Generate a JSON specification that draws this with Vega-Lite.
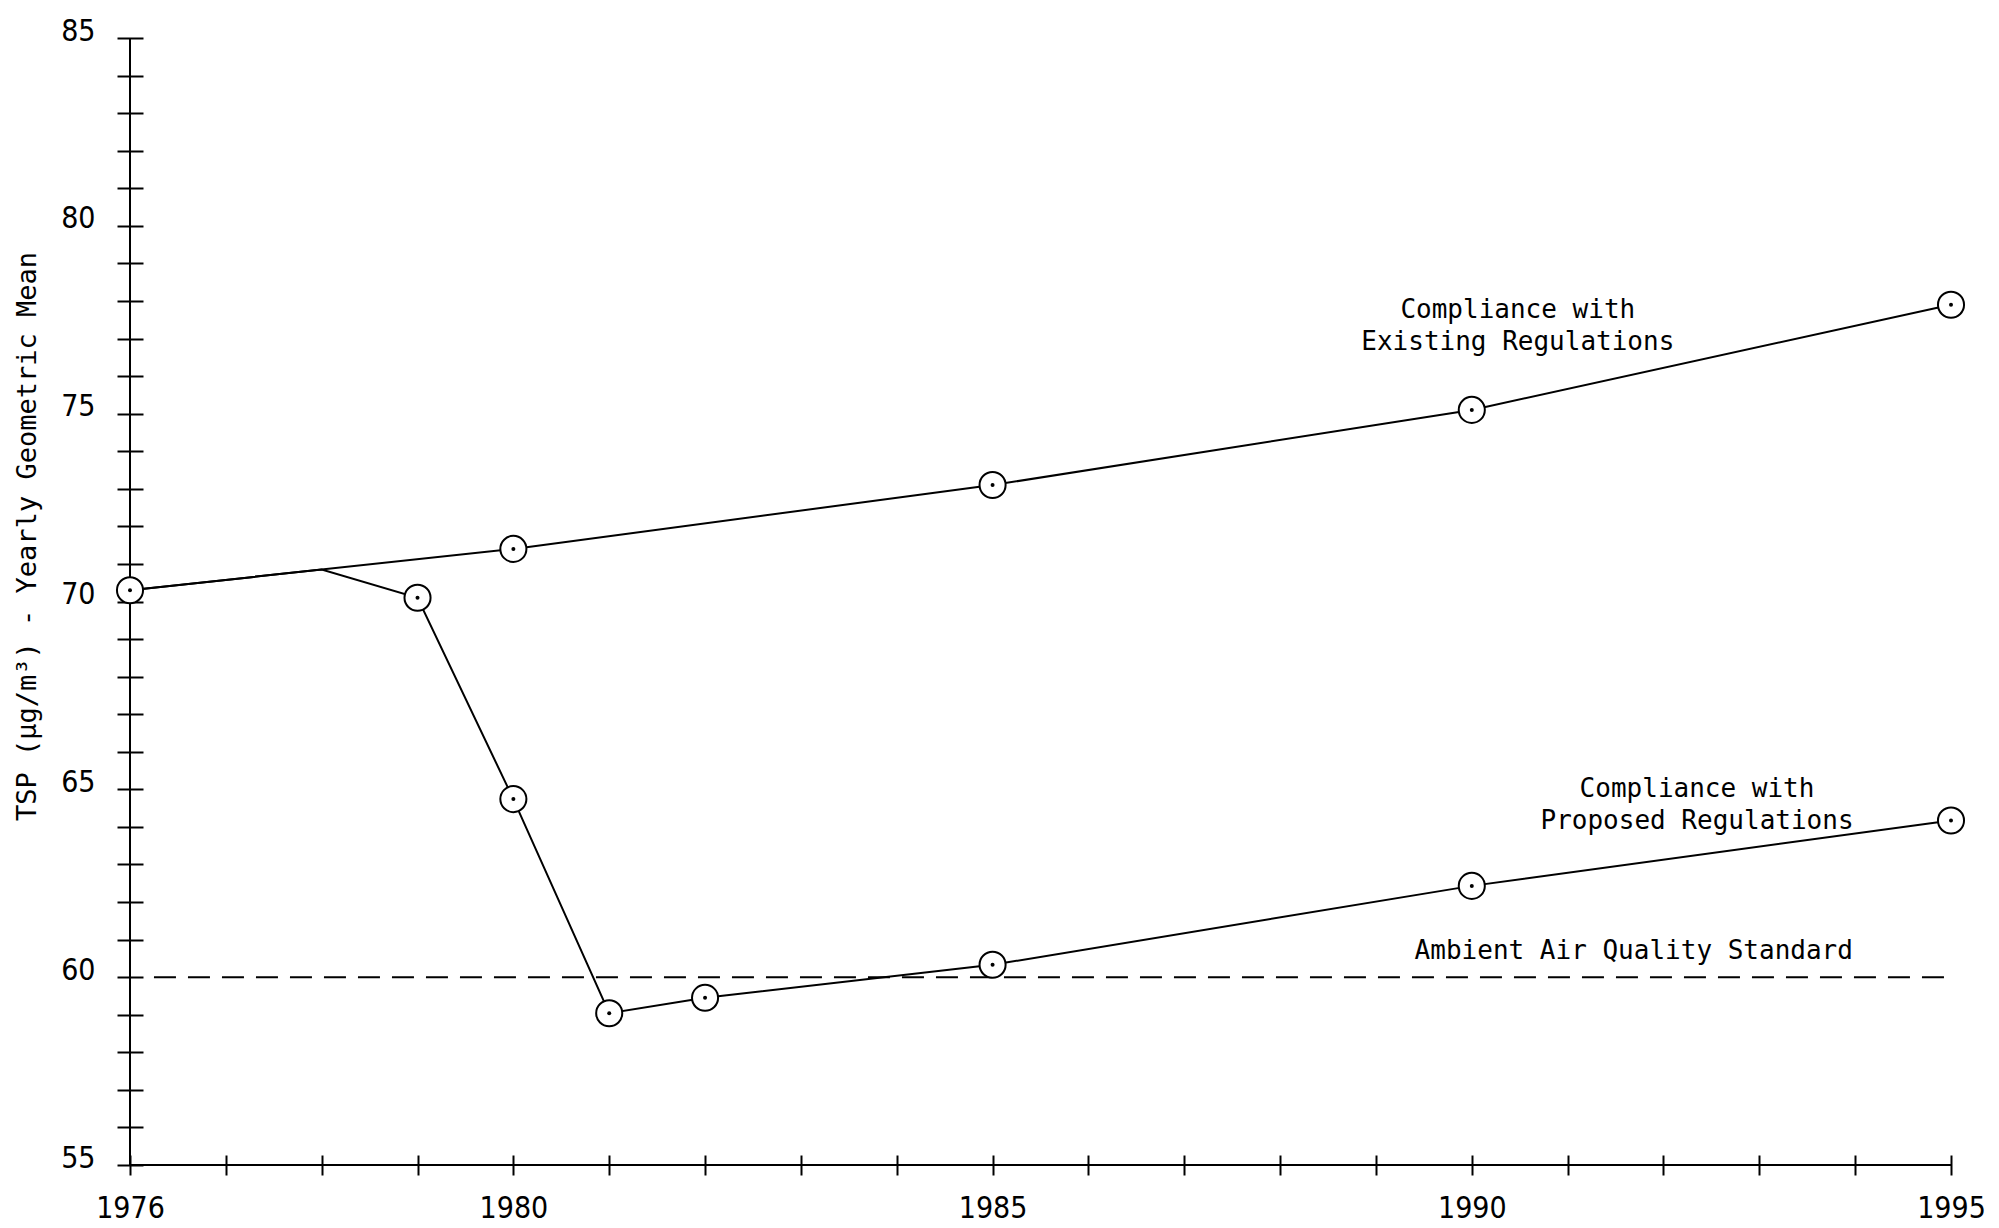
{
  "$schema": "https://vega.github.io/schema/vega-lite/v6.json",
  "width": 1821,
  "height": 1127,
  "autosize": "none",
  "padding": {"left": 130, "top": 38, "right": 48, "bottom": 63},
  "background": "white",
  "config": {
    "view": {"stroke": null},
    "axis": {
      "domain": false,
      "grid": false,
      "tickColor": "black",
      "tickWidth": 2,
      "labelColor": "black",
      "labelFont": "Liberation Sans Narrow, DejaVu Sans Condensed, DejaVu Sans",
      "labelFontSize": 30,
      "titleColor": "black",
      "titleFont": "DejaVu Sans Mono",
      "titleFontSize": 27,
      "titleFontWeight": "normal"
    }
  },
  "datasets": {
    "series": [
      {"series": "Existing", "year": 1976, "tsp": 70.3},
      {"series": "Existing", "year": 1980, "tsp": 71.4},
      {"series": "Existing", "year": 1985, "tsp": 73.1},
      {"series": "Existing", "year": 1990, "tsp": 75.1},
      {"series": "Existing", "year": 1995, "tsp": 77.9},
      {"series": "Proposed", "year": 1976, "tsp": 70.3},
      {"series": "Proposed", "year": 1978, "tsp": 70.85},
      {"series": "Proposed", "year": 1979, "tsp": 70.1},
      {"series": "Proposed", "year": 1980, "tsp": 64.74},
      {"series": "Proposed", "year": 1981, "tsp": 59.04},
      {"series": "Proposed", "year": 1982, "tsp": 59.45},
      {"series": "Proposed", "year": 1985, "tsp": 60.33},
      {"series": "Proposed", "year": 1990, "tsp": 62.43},
      {"series": "Proposed", "year": 1995, "tsp": 64.17}
    ],
    "labels": [
      {"year": 1990.48, "tsp": 77.75, "label": "Compliance with\nExisting Regulations"},
      {"year": 1992.35, "tsp": 65.0, "label": "Compliance with\nProposed Regulations"},
      {"year": 1991.69, "tsp": 60.7, "label": "Ambient Air Quality Standard"}
    ]
  },
  "layer": [
    {
      "data": {"name": "series"},
      "mark": {"type": "line", "color": "black", "strokeWidth": 2},
      "encoding": {
        "x": {
          "field": "year",
          "type": "quantitative",
          "scale": {"domain": [1976, 1995], "nice": false, "zero": false},
          "axis": {
            "values": [1976, 1977, 1978, 1979, 1980, 1981, 1982, 1983, 1984, 1985, 1986, 1987, 1988, 1989, 1990, 1991, 1992, 1993, 1994, 1995],
            "tickCount": 40,
            "format": "d",
            "labelExpr": "(datum.value == 1976 || datum.value % 5 == 0) ? datum.label : ''",
            "offset": -10,
            "tickSize": 20,
            "labelPadding": 18,
            "labelOverlap": false,
            "labelFlush": false,
            "title": null
          }
        },
        "y": {
          "field": "tsp",
          "type": "quantitative",
          "scale": {"domain": [55, 85], "nice": false, "zero": false},
          "axis": {
            "values": [55, 56, 57, 58, 59, 60, 61, 62, 63, 64, 65, 66, 67, 68, 69, 70, 71, 72, 73, 74, 75, 76, 77, 78, 79, 80, 81, 82, 83, 84, 85],
            "tickCount": 40,
            "labelExpr": "datum.value % 5 == 0 ? datum.label : ''",
            "offset": -13,
            "tickSize": 26,
            "labelPadding": 22,
            "labelOffset": -7,
            "labelOverlap": false,
            "labelFlush": false,
            "title": "TSP (μg/m³) - Yearly Geometric Mean",
            "titleAngle": 270,
            "titleX": -116,
            "titleY": 498,
            "titleAlign": "center",
            "titleBaseline": "middle"
          }
        },
        "detail": {"field": "series"},
        "order": {"field": "year"}
      }
    },
    {
      "data": {"values": [{}]},
      "mark": {"type": "rule", "color": "black", "strokeWidth": 2},
      "encoding": {
        "x": {"datum": 1976, "type": "quantitative"},
        "y": {"datum": 55, "type": "quantitative"},
        "y2": {"datum": 85}
      }
    },
    {
      "data": {"values": [{}]},
      "mark": {"type": "rule", "color": "black", "strokeWidth": 2},
      "encoding": {
        "y": {"datum": 55, "type": "quantitative"},
        "x": {"datum": 1976, "type": "quantitative"},
        "x2": {"datum": 1995}
      }
    },
    {
      "data": {"values": [{}]},
      "mark": {"type": "rule", "color": "black", "strokeWidth": 2, "strokeDash": [22, 12]},
      "encoding": {
        "y": {"datum": 60, "type": "quantitative"},
        "x": {"datum": 1976.25, "type": "quantitative"},
        "x2": {"datum": 1995}
      }
    },
    {
      "data": {"name": "series"},
      "transform": [{"filter": "!(datum.series == 'Proposed' && (datum.year == 1976 || datum.year == 1978))"}],
      "mark": {"type": "point", "shape": "circle", "filled": false, "fill": "white", "fillOpacity": 1, "stroke": "black", "strokeWidth": 2, "opacity": 1, "size": 680},
      "encoding": {
        "x": {"field": "year", "type": "quantitative"},
        "y": {"field": "tsp", "type": "quantitative"}
      }
    },
    {
      "data": {"name": "series"},
      "transform": [{"filter": "!(datum.series == 'Proposed' && (datum.year == 1976 || datum.year == 1978))"}],
      "mark": {"type": "circle", "color": "black", "opacity": 1, "size": 16},
      "encoding": {
        "x": {"field": "year", "type": "quantitative"},
        "y": {"field": "tsp", "type": "quantitative"}
      }
    },
    {
      "data": {"name": "labels"},
      "mark": {"type": "text", "font": "DejaVu Sans Mono", "fontSize": 26, "color": "black", "align": "center", "baseline": "middle", "lineBreak": "\n", "lineHeight": 32},
      "encoding": {
        "x": {"field": "year", "type": "quantitative"},
        "y": {"field": "tsp", "type": "quantitative"},
        "text": {"field": "label"}
      }
    }
  ]
}
